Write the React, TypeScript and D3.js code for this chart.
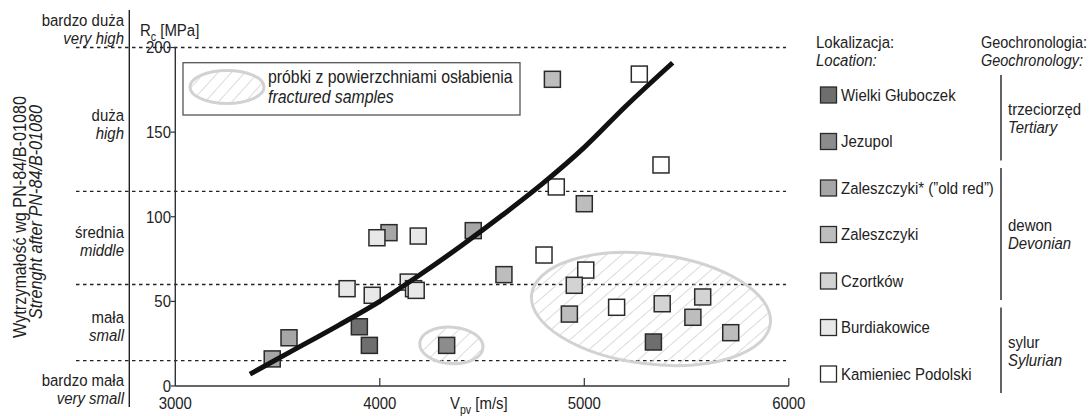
import React from "react";
import * as d3 from "d3";

// sample locations (legend order)
const locations = [
  "Wielki Głuboczek",
  "Jezupol",
  "Zaleszczyki* (”old red”)",
  "Zaleszczyki",
  "Czortków",
  "Burdiakowice",
  "Kamieniec Podolski",
];
const fills = ["#6e6e6e", "#8c8c8c", "#a6a6a6", "#bdbdbd", "#d3d3d3", "#e8e8e8", "#ffffff"];

// Vp [m/s] / Rc [MPa]
const wielkiV = [3900, 3949, 5338];
const wielkiR = [35, 24, 26];
const jezupolV = [4327];
const jezupolR = [24];
const oldRedV = [3474, 3556, 4045, 4457];
const oldRedR = [16, 28.5, 90.6, 91.8];
const zaleszV = [4607, 4927, 5531, 5716, 4844, 5000];
const zaleszR = [65.8, 42.5, 40.6, 31.5, 181.2, 107.7];
const czortkowV = [4951, 5381, 5579];
const czortkowR = [59.5, 48.6, 52.6];
const burdV = [3840, 3963, 3986, 4188, 4139, 4165, 4178];
const burdR = [57.5, 53.6, 87.6, 88.6, 61.4, 57.5, 56.5];
const kamV = [4803, 5007, 5158, 5269, 5375, 4863];
const kamR = [77.4, 68.5, 46.5, 184.3, 130.6, 117.6];

// trend line
const fitV = [3365, 3560, 3800, 4000, 4200, 4400, 4600, 4800, 5000, 5200, 5432];
const fitR = [7, 20, 36, 50, 66, 83, 101, 120, 141, 165, 191];

const xTicks = [3000, 4000, 5000, 6000];
const yTicks = [0, 50, 100, 150, 200];
const classBounds = [15, 60, 115, 200];
const classPl = ["bardzo mała", "mała", "średnia", "duża", "bardzo duża"];
const classEn = ["very small", "small", "middle", "high", "very high"];

const groups = [
  { pl: "trzeciorzęd", en: "Tertiary", from: 0, to: 1 },
  { pl: "dewon", en: "Devonian", from: 2, to: 4 },
  { pl: "sylur", en: "Sylurian", from: 5, to: 6 },
];

const W = 1090;
const H = 416;
const FONT = "'Liberation Sans', Arial, sans-serif";

// condensed text: horizontally squeezed around its anchor
function T({
  x,
  y,
  children,
  anchor = "start",
  italic = false,
  size = 17,
  sx = 0.88,
  rot = 0,
}: {
  x: number;
  y: number;
  children: React.ReactNode;
  anchor?: string;
  italic?: boolean;
  size?: number;
  sx?: number;
  rot?: number;
}) {
  return (
    <text
      transform={`translate(${x},${y}) rotate(${rot}) scale(${sx},1)`}
      textAnchor={anchor}
      dy="0.35em"
      fontSize={size}
      fontStyle={italic ? "italic" : "normal"}
    >
      {children}
    </text>
  );
}

export default function App() {
  const x = d3.scaleLinear().domain([3000, 6000]).range([175.3, 788.8]);
  const y = d3.scaleLinear().domain([0, 200]).range([386, 47.5]);

  const series = [
    [wielkiV, wielkiR, 0],
    [jezupolV, jezupolR, 1],
    [oldRedV, oldRedR, 2],
    [zaleszV, zaleszR, 3],
    [kamV, kamR, 6],
    [czortkowV, czortkowR, 4],
    [burdV, burdR, 5],
  ] as [number[], number[], number][];

  const line = d3
    .line<number>()
    .x((d) => x(d))
    .y((_, i) => y(fitR[i]))
    .curve(d3.curveMonotoneX);

  // hatched zones of fractured samples (data units)
  const zones = [
    { cx: 4350, cy: 24, rv: 155, rr: 10.8, rot: 4 },
    { cx: 5326, cy: 45.5, rv: 588, rr: 32.5, rot: 7 },
  ];

  const classY = [380, 317, 232, 115, 20];
  const legendY = locations.map((_, i) => 95 + i * 46.5);
  const sq = 16;

  return (
    <svg
      width={W}
      height={H}
      style={{ position: "absolute", left: 0, top: 0, background: "#fff" }}
      fontFamily={FONT}
      fill="#222"
    >
      <defs>
        <pattern
          id="hatch"
          patternUnits="userSpaceOnUse"
          width={10}
          height={10}
          patternTransform="rotate(42)"
        >
          <line x1={0} y1={0} x2={0} y2={10} stroke="#c8c8c8" strokeWidth={1.3} />
        </pattern>
      </defs>

      {/* class boundaries */}
      {classBounds.map((b) => (
        <line
          key={b}
          x1={76}
          x2={786}
          y1={y(b)}
          y2={y(b)}
          stroke="#222"
          strokeWidth={1.4}
          strokeDasharray="3.5,3.5"
        />
      ))}

      {/* strength class scale */}
      <line x1={129.3} x2={129.3} y1={10} y2={407} stroke="#222" strokeWidth={1.4} />
      {classPl.map((t, i) => (
        <g key={t}>
          <T x={124} y={classY[i]} anchor="end">{t}</T>
          <T x={124} y={classY[i] + 18} anchor="end" italic>
            {classEn[i]}
          </T>
        </g>
      ))}
      <T x={20} y={217} rot={-90} anchor="middle" size={18} sx={0.9}>
        Wytrzymałość wg PN-84/B-01080
      </T>
      <T x={36} y={212} rot={-90} anchor="middle" size={18} sx={0.9} italic>
        Strenght after  PN-84/B-01080
      </T>

      {/* hatched zones */}
      {zones.map((z, i) => {
        const cx = x(z.cx);
        const cy = y(z.cy);
        return (
          <ellipse
            key={i}
            cx={cx}
            cy={cy}
            rx={x(z.cx + z.rv) - cx}
            ry={cy - y(z.cy + z.rr)}
            transform={`rotate(${z.rot},${cx},${cy})`}
            fill="url(#hatch)"
            stroke="#d2d2d2"
            strokeWidth={3}
          />
        );
      })}

      {/* axes */}
      <line x1={x(3000)} x2={x(6000)} y1={y(0)} y2={y(0)} stroke="#333" strokeWidth={1.4} />
      <line x1={x(3000)} x2={x(3000)} y1={y(0)} y2={y(200)} stroke="#333" strokeWidth={1.4} />
      {yTicks.map((t) => (
        <g key={t}>
          <line x1={x(3000) - 4.5} x2={x(3000)} y1={y(t)} y2={y(t)} stroke="#333" strokeWidth={1.2} />
          <T x={171} y={y(t)} anchor="end">
            {t}
          </T>
        </g>
      ))}
      {xTicks.map((t) => (
        <g key={t}>
          {t > 3000 && (
            <line x1={x(t)} x2={x(t)} y1={y(0)} y2={y(0) - 8} stroke="#333" strokeWidth={1.2} />
          )}
          <T x={x(t)} y={403} anchor="middle">
            {t}
          </T>
        </g>
      ))}
      <T x={450} y={403}>
        V<tspan fontSize={12} dy={5}>pv</tspan>
        <tspan dy={-5}> [m/s]</tspan>
      </T>
      <T x={140} y={30}>
        R<tspan fontSize={12} dy={5}>c</tspan>
        <tspan dy={-5}> [MPa]</tspan>
      </T>

      {/* fractured samples key */}
      <rect x={183} y={62.7} width={337} height={52.3} fill="#fff" stroke="#555" strokeWidth={1.3} />
      <ellipse cx={227} cy={87} rx={37} ry={16.5} fill="url(#hatch)" stroke="#d2d2d2" strokeWidth={3} />
      <T x={268} y={77} size={18} sx={0.88}>próbki z powierzchniami osłabienia</T>
      <T x={268} y={97} size={18} sx={0.88} italic>
        fractured samples
      </T>

      {/* samples */}
      {series.map(([vs, rs, ci]) =>
        vs.map((v, j) => (
          <rect
            key={`${ci}-${j}`}
            x={x(v) - sq / 2}
            y={y(rs[j]) - sq / 2}
            width={sq}
            height={sq}
            fill={fills[ci]}
            stroke="#2a2a2a"
            strokeWidth={1.5}
          />
        ))
      )}

      {/* trend */}
      <path d={line(fitV) ?? ""} fill="none" stroke="#111" strokeWidth={5} />

      {/* legend */}
      <T x={816} y={42}>Lokalizacja:</T>
      <T x={816} y={60} italic>Location:</T>
      <T x={981} y={42} sx={0.85}>Geochronologia:</T>
      <T x={981} y={60} sx={0.85} italic>Geochronology:</T>
      {locations.map((name, i) => (
        <g key={name}>
          <rect
            x={820.5}
            y={legendY[i] - 8}
            width={16}
            height={16}
            fill={fills[i]}
            stroke="#2a2a2a"
            strokeWidth={1.3}
          />
          <T x={841} y={legendY[i]}>
            {name}
          </T>
        </g>
      ))}
      {groups.map((g) => {
        const top = legendY[g.from] - 20;
        const bottom = legendY[g.to] + 19;
        const mid = (legendY[g.from] + legendY[g.to]) / 2;
        return (
          <g key={g.pl}>
            <line x1={1001} x2={1001} y1={top} y2={bottom} stroke="#222" strokeWidth={1.4} />
            <T x={1008} y={mid - 9}>{g.pl}</T>
            <T x={1008} y={mid + 9} italic>
              {g.en}
            </T>
          </g>
        );
      })}
    </svg>
  );
}
